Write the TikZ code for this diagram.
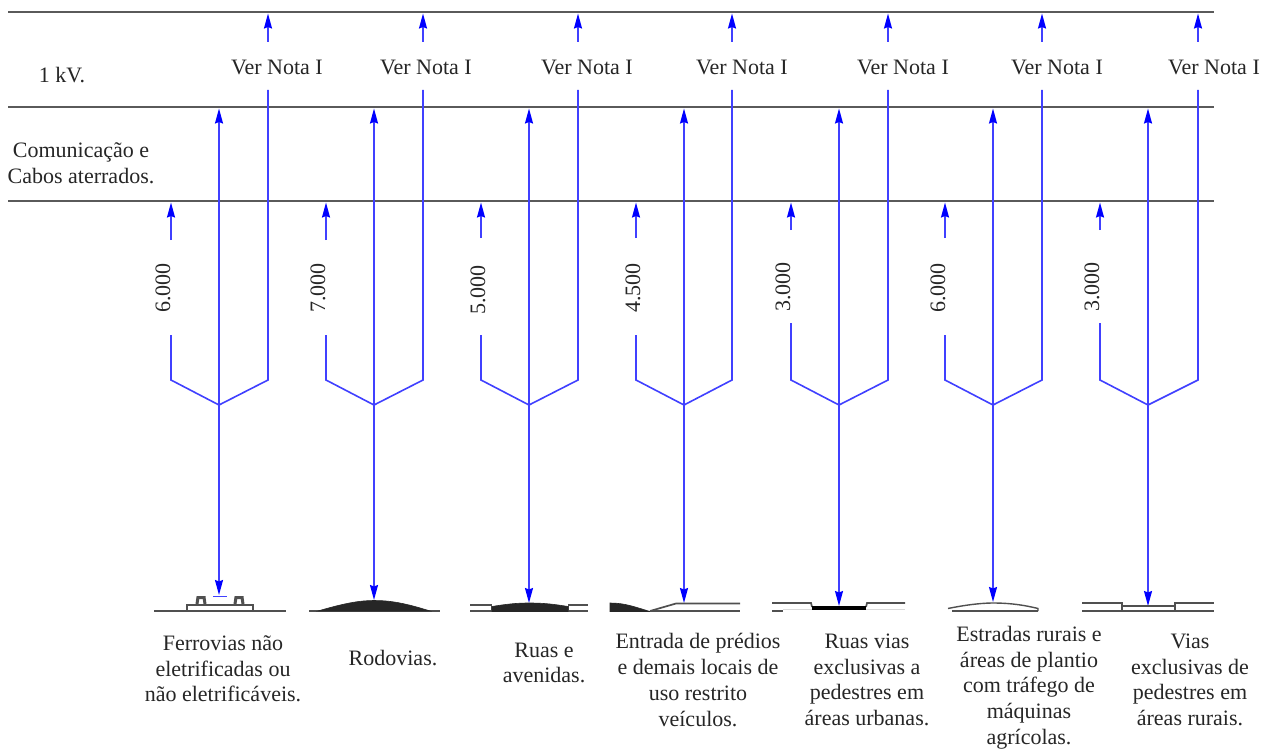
\documentclass[tikz,border=0pt]{standalone}
\usepackage{fontspec}
\setmainfont{Liberation Serif}
\usetikzlibrary{arrows.meta}
\definecolor{dim}{HTML}{4040FF}
\definecolor{lvl}{HTML}{5A5A5A}
\definecolor{surf}{HTML}{505050}
\tikzset{
  dimline/.style={draw=dim,line width=1.6pt},
  dimarrow/.style={dimline,-{Stealth[length=15pt,width=8pt,inset=1.5pt,color=blue,fill=blue]}},
  level/.style={draw=lvl,line width=2pt},
  surface/.style={draw=surf,line width=1.7pt},
  solid surf/.style={fill=black!85,draw=black!85,line width=.6pt},
  lab/.style={font=\fontsize{22}{25.7}\selectfont,align=center,inner sep=0pt,text=black!85},
  vlab/.style={lab,rotate=90},
}
\begin{document}
\begin{tikzpicture}[x=1pt,y=-1pt]
\useasboundingbox (0,0) rectangle (1276,749);
\fill[white] (0,0) rectangle (1276,749);
% levels
\coordinate (L1a) at (8,12);   \coordinate (L1b) at (1214,12);
\coordinate (L2a) at (8,107);  \coordinate (L2b) at (1214,107);
\coordinate (L3a) at (8,201);  \coordinate (L3b) at (1214,201);
\draw[level] (L1a) -- (L1b);
\draw[level] (L2a) -- (L2b);
\draw[level] (L3a) -- (L3b);
\node[lab] (kv) at (62,75) {1 kV.};
\node[lab] (com) at (81,163) {Comunicação e\\Cabos aterrados.};
% forks: index / left / centre / right / label / lower left top / arrow tail / label x,y / centre tip y
\foreach \i/\xl/\xc/\xr/\val/\ltop/\atail/\vx/\vy/\tip in {
  1/171/219/268/6.000/335/240/163/288/595,
  2/326/374/423/7.000/335/240/318/288/600,
  3/481/529/578/5.000/335/238/478/290/603,
  4/636/684/732/4.500/335/238/633/288/603,
  5/791/839/888/3.000/323/230/783/287/606,
  6/945/993/1042/6.000/335/238/938/288/602,
  7/1100/1148/1198/3.000/323/230/1092/287/606}{
  \coordinate (fl\i) at (\xl,380);
  \coordinate (fc\i) at (\xc,405);
  \coordinate (fr\i) at (\xr,380);
  \coordinate (ll\i) at (\xl,\ltop);
  \coordinate (lt\i) at (\xl,\atail);
  \coordinate (lh\i) at (\xl,202.5);
  \coordinate (ct\i) at (\xc,108.5);
  \coordinate (cb\i) at (\xc,\tip);
  \coordinate (rl\i) at (\xr,90);
  \coordinate (rt\i) at (\xr,42);
  \coordinate (rh\i) at (\xr,13.5);
  \draw[dimline] (ll\i) -- (fl\i) -- (fc\i) -- (fr\i) -- (rl\i);
  \draw[dimarrow] (lt\i) -- (lh\i);
  \draw[dimarrow] (rt\i) -- (rh\i);
  \draw[dimarrow] (fc\i) -- (ct\i);
  \draw[dimarrow] (fc\i) -- (cb\i);
  \node[vlab] (val\i) at (\vx,\vy) {\val};
}
\foreach \i/\x in {1/277,2/426,3/587,4/742,5/903,6/1057,7/1214}
  \node[lab] (nota\i) at (\x,67) {Ver Nota I};
% surfaces
% 1 railway
\draw[surface] (154,611) -- (286,611);
\draw[surface] (187,611) -- (187,605) -- (253,605) -- (253,611);
\draw[surface,line width=3pt] (197,604) -- (198,597) (205,604) -- (204,597) (196.5,597.5) -- (205.5,597.5);
\draw[surface,line width=3pt] (235,604) -- (236,597) (243,604) -- (242,597) (234.5,597.5) -- (243.5,597.5);
\draw[draw=dim,line width=1.6pt] (213,596.5) -- (227,596.5);
% 2 road
\draw[surface] (309,611) -- (440,611);
\fill[solid surf] (318,611) .. controls (345,603) and (360,600.5) .. (374,600.5) .. controls (390,600.5) and (405,603) .. (430,611) -- cycle;
% 3 avenue
\draw[surface] (470,605) -- (492,605) (470,611) -- (492,611) (568,605) -- (588,605) (568,611) -- (588,611);
\draw[surface,line width=1pt] (491,605) -- (491,611) (568,605) -- (568,611);
\fill[solid surf] (492,611.5) -- (492,606.5) .. controls (510,603.5) and (520,603) .. (529,603) .. controls (540,603) and (550,603.5) .. (568,606.5) -- (568,611.5) -- cycle;
% 4 building entry
\fill[solid surf] (610,603) .. controls (625,603) and (635,607) .. (650,611.5) -- (610,611.5) -- cycle;
\draw[surface] (650,611) -- (676,603.5) -- (740,603.5);
\draw[surface] (650,611) -- (740,611);
% 5 urban pedestrian
\draw[surface] (772,603) -- (811,603) -- (812,607);
\draw[surface] (772,611) -- (783,611);
\draw[surface] (866,607) -- (867,603) -- (905,603);
\draw[draw=black!15,line width=1pt] (783,609.5) -- (812,609.5) (866,609.5) -- (905,609.5);
\fill[black] (812,606) rectangle (866,609.5);
% 6 rural road
\draw[surface,line width=1.4pt] (948,608.5) .. controls (970,604) and (985,603) .. (993,603) .. controls (1005,603) and (1020,604) .. (1038,608.5) -- (1038,611);
\draw[surface] (952,611) -- (1038,611);
% 7 rural pedestrian
\draw[surface] (1082,603) -- (1122,603) -- (1122,611);
\draw[surface] (1175,611) -- (1175,603) -- (1214,603);
\draw[surface] (1082,611) -- (1214,611);
\draw[surface] (1122,606) -- (1175,606);
% captions
\node[lab] (c1) at (223,669) {Ferrovias não\\eletrificadas ou\\não eletrificáveis.};
\node[lab] (c2) at (393,658) {Rodovias.};
\node[lab] (c3) at (544,663) {Ruas e\\avenidas.};
\node[lab] (c4) at (698,680) {Entrada de prédios\\e demais locais de\\uso restrito\\veículos.};
\node[lab] (c5) at (867,680) {Ruas vias\\exclusivas a\\pedestres em\\áreas urbanas.};
\node[lab] (c6) at (1029,687.5) {Estradas rurais e\\áreas de plantio\\com tráfego de\\máquinas\\agrícolas.};
\node[lab] (c7) at (1190,680) {Vias\\exclusivas de\\pedestres em\\áreas rurais.};
\end{tikzpicture}
\end{document}
